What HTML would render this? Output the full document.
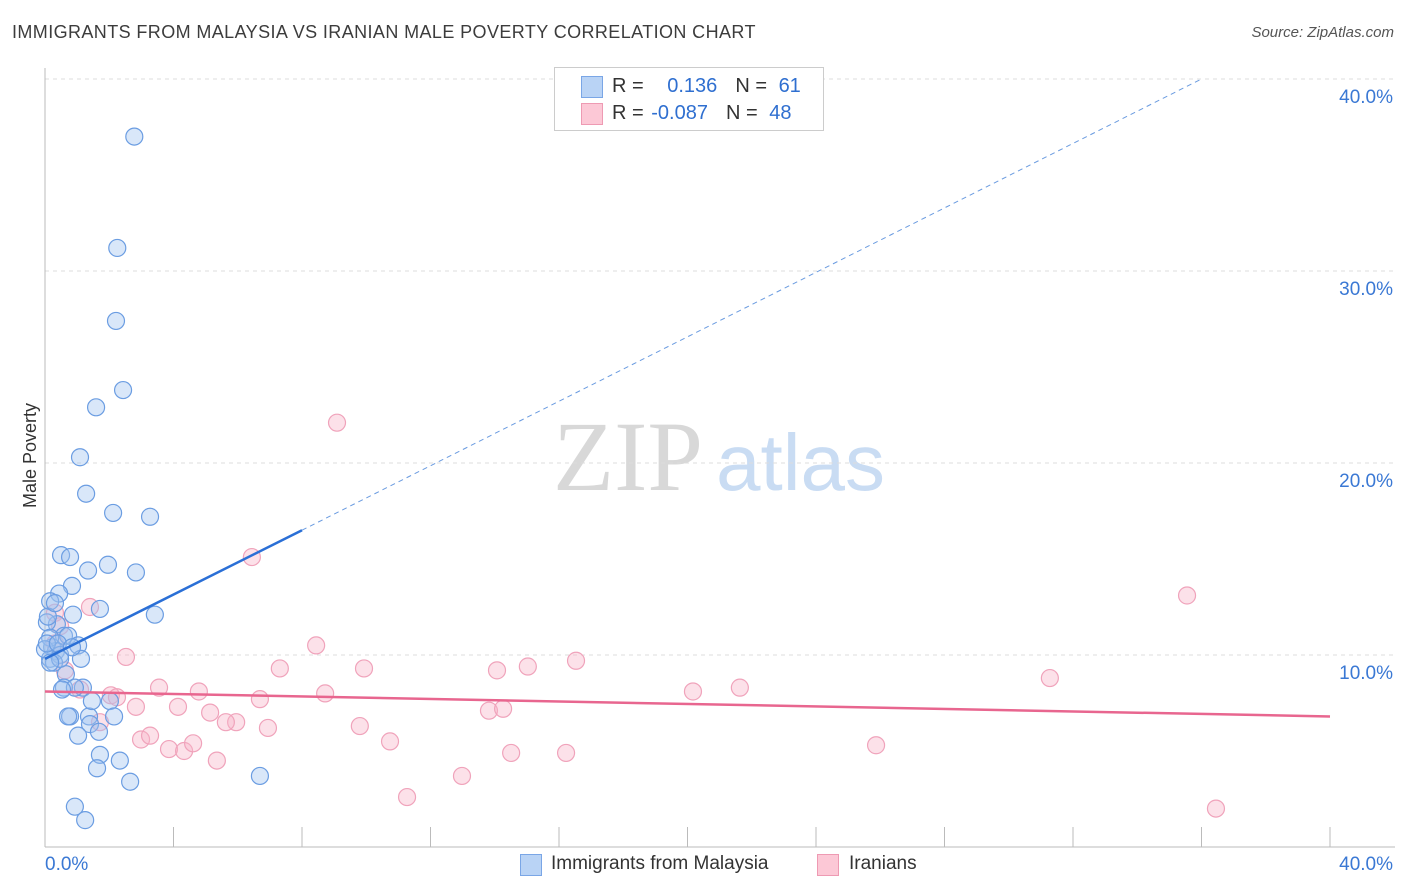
<!DOCTYPE html>
<html><head><meta charset="utf-8">
<style>
body{margin:0;background:#fff;font-family:"Liberation Sans",sans-serif;}
#wrap{position:relative;width:1406px;height:892px;overflow:hidden;}
.t{position:absolute;white-space:nowrap;}
</style></head>
<body>
<div id="wrap">
<div class="t" style="left:12px;top:22px;font-size:18px;color:#3c3c3c;letter-spacing:0.4px">IMMIGRANTS FROM MALAYSIA VS IRANIAN MALE POVERTY CORRELATION CHART</div>
<div class="t" style="right:12px;top:24px;font-size:15px;color:#555;font-style:italic">Source: ZipAtlas.com</div>
<div class="t" style="left:-22px;top:445px;font-size:18px;color:#333;transform:rotate(-90deg)">Male Poverty</div>
<svg id="plot" width="1406" height="892" style="position:absolute;left:0;top:0"></svg>
<div style="position:absolute;left:554px;top:67px;width:268px;height:62px;border:1px solid #ccc;background:#fff;">
  <div style="position:absolute;left:26px;top:8px;width:20px;height:20px;background:#b9d3f5;border:1px solid #7aa6e6"></div>
  <div class="t" style="left:57px;top:7px;font-size:20px;color:#333">R = <span style="color:#2f6fd0;margin-left:18px">0.136</span><span style="margin-left:18px">N = </span><span style="color:#2f6fd0;margin-left:6px">61</span></div>
  <div style="position:absolute;left:26px;top:35px;width:20px;height:20px;background:#fcc8d6;border:1px solid #ee9ab3"></div>
  <div class="t" style="left:57px;top:34px;font-size:20px;color:#333">R = <span style="color:#2f6fd0;margin-left:2px">-0.087</span><span style="margin-left:18px">N = </span><span style="color:#2f6fd0;margin-left:6px">48</span></div>
</div>
<div>
  <div style="position:absolute;left:520px;top:854px;width:20px;height:20px;background:#b9d3f5;border:1px solid #7aa6e6"></div>
  <div class="t" style="left:551px;top:853px;font-size:19px;color:#333">Immigrants from Malaysia</div>
  <div style="position:absolute;left:817px;top:854px;width:20px;height:20px;background:#fcc8d6;border:1px solid #ee9ab3"></div>
  <div class="t" style="left:849px;top:853px;font-size:19px;color:#333">Iranians</div>
</div>
</div>
<script>
const yTicks=[10,20,30,40];
const yTickLabels=["10.0%","20.0%","30.0%","40.0%"];
const xLabels=["0.0%","40.0%"];
const blueX=[2.78,2.25,2.21,2.43,1.59,1.09,1.28,2.12,3.27,0.50,0.78,1.96,1.34,2.83,0.84,0.44,3.42,0.16,1.71,0.87,0.37,0.06,0.59,0.72,1.03,0.22,0.34,0.16,0.47,1.12,0.28,0.65,0.59,1.18,0.93,2.02,0.78,0.72,1.37,2.15,1.40,1.68,1.03,1.71,1.62,2.33,2.65,6.69,0.93,1.25,0.09,0.16,0.47,0.00,0.31,1.46,0.16,0.06,0.40,0.84,0.53];
const blueY=[37.0,31.2,27.4,23.8,22.9,20.3,18.4,17.4,17.2,15.2,15.1,14.7,14.4,14.3,13.6,13.2,12.1,12.8,12.4,12.1,11.6,11.7,11.0,11.0,10.5,10.4,10.2,9.8,10.0,9.8,9.6,9.0,8.3,8.3,8.3,7.6,6.8,6.8,6.8,6.8,6.4,6.0,5.8,4.8,4.1,4.5,3.4,3.7,2.1,1.4,12.0,10.9,9.8,10.3,12.7,7.6,9.6,10.6,10.6,10.4,8.2];
const pinkX=[9.09,6.44,35.55,1.40,0.31,8.44,2.52,7.31,9.93,14.07,15.03,16.53,31.28,3.55,4.79,21.63,20.17,8.72,6.69,2.05,2.24,4.14,2.83,5.14,5.95,5.63,13.82,14.26,6.94,9.80,2.99,3.27,3.86,4.33,4.61,10.74,25.87,5.35,14.51,16.22,12.98,11.27,36.45,1.71,0.47,1.09,0.62,0.31];
const pinkY=[22.1,15.1,13.1,12.5,12.2,10.5,9.9,9.3,9.3,9.2,9.4,9.7,8.8,8.3,8.1,8.3,8.1,8.0,7.7,7.9,7.8,7.3,7.3,7.0,6.5,6.5,7.1,7.2,6.2,6.3,5.6,5.8,5.1,5.0,5.4,5.5,5.3,4.5,4.9,4.9,3.7,2.6,2.0,6.5,11.5,8.2,9.2,10.6];
const blueFit=[9.8,16.5];const blueFitX=[0,8];const blueDashEnd=[36,40];
const pinkFit=[8.1,6.8];const pinkFitX=[0,40];
const X=v=>45+v/40*1285, Y=v=>847-v*19.2;
const s=document.getElementById('plot'),NS='http://www.w3.org/2000/svg';
function mk(t,a,p){const e=document.createElementNS(NS,t);for(const k in a)e.setAttribute(k,a[k]);(p||s).appendChild(e);return e;}
let wm=mk('text',{x:553,y:490,'font-family':'Liberation Serif,serif','font-size':100,fill:'#d8d8d8'});wm.textContent='ZIP';


let wm2=mk('text',{x:716,y:490,'font-family':'Liberation Sans,sans-serif','font-size':80,fill:'#c9dcf3'});wm2.textContent='atlas';


yTicks.forEach((v,i)=>{const g=mk('line',{x1:45,x2:1395,y1:Y(v),y2:Y(v),stroke:'#ddd','stroke-dasharray':'4,4'});


const t=mk('text',{x:1393,y:Y(v)+24,'text-anchor':'end','font-size':19,fill:'#3a78d4','font-family':'Liberation Sans,sans-serif'});t.textContent=yTickLabels[i];

});
mk('line',{x1:45,x2:45,y1:68,y2:847,stroke:'#bbb'});
mk('line',{x1:45,x2:1395,y1:847,y2:847,stroke:'#bbb'});
for(let i=0;i<=10;i++){const x=45+i*128.5;const tk=mk('line',{x1:x,x2:x,y1:827,y2:847,stroke:'#bbb'});

}
[[0,'start',45],[40,'end',1393]].forEach((a,i)=>{const t=mk('text',{x:a[2],y:870,'text-anchor':a[1],'font-size':19,fill:'#3a78d4','font-family':'Liberation Sans,sans-serif'});t.textContent=xLabels[i];

});
pinkX.forEach((x,i)=>{const c=mk('circle',{cx:X(x),cy:Y(pinkY[i]),r:8.5,fill:'rgba(248,180,200,0.4)',stroke:'#f0a3bb','stroke-width':1.2});

});
blueX.forEach((x,i)=>{const c=mk('circle',{cx:X(x),cy:Y(blueY[i]),r:8.5,fill:'rgba(160,195,240,0.4)',stroke:'#6b9de2','stroke-width':1.2});

});
let l1=mk('line',{x1:X(blueFitX[0]),y1:Y(blueFit[0]),x2:X(blueFitX[1]),y2:Y(blueFit[1]),stroke:'#2a6fd6','stroke-width':2.5});


let l2=mk('line',{x1:X(blueFitX[1]),y1:Y(blueFit[1]),x2:X(blueDashEnd[0]),y2:Y(blueDashEnd[1]),stroke:'#6a9be0','stroke-width':1,'stroke-dasharray':'5,4'});


let l3=mk('line',{x1:X(pinkFitX[0]),y1:Y(pinkFit[0]),x2:X(pinkFitX[1]),y2:Y(pinkFit[1]),stroke:'#e8668f','stroke-width':2.5});


</script>
</body></html>
